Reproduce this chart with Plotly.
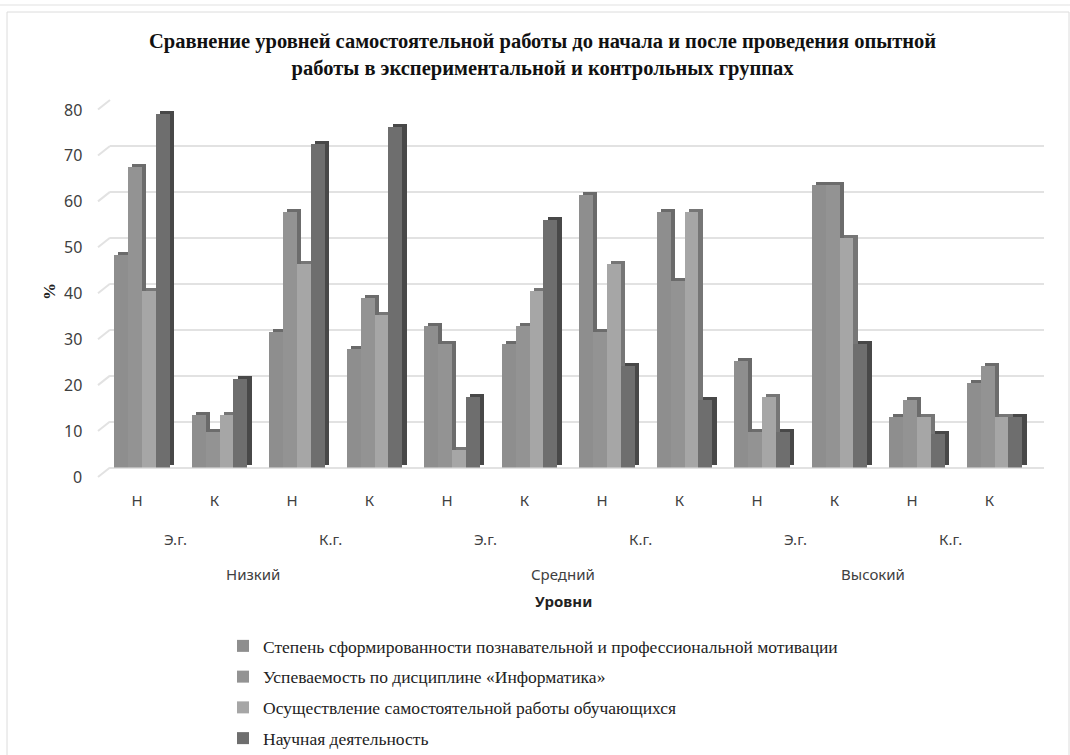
import plotly.graph_objects as go

# Category levels (three-level axis)
stage = ["Н", "К", "Н", "К", "Н", "К", "Н", "К", "Н", "К", "Н", "К"]
groups = ["Э.г.", "К.г.", "Э.г.", "К.г.", "Э.г.", "К.г."]
levels = ["Низкий", "Средний", "Высокий"]
y_ticks = [0, 10, 20, 30, 40, 50, 60, 70, 80]

series_names = [
    "Степень сформированности познавательной и профессиональной мотивации",
    "Успеваемость по дисциплине «Информатика»",
    "Осуществление самостоятельной работы обучающихся",
    "Научная деятельность",
]

motivation = [46.2, 11.5, 29.6, 25.9, 30.8, 26.9, 59.3, 55.6, 23.1, 61.5, 11.1, 18.5]
informatics = [65.4, 7.7, 55.6, 37.0, 26.9, 30.8, 29.6, 40.7, 7.7, 61.5, 14.8, 22.2]
independent_work = [38.5, 11.5, 44.4, 33.3, 3.8, 38.5, 44.4, 55.6, 15.4, 50.0, 11.1, 11.1]
research = [76.9, 19.2, 70.4, 74.1, 15.4, 53.8, 22.2, 14.8, 7.7, 26.9, 7.4, 11.1]

values = [motivation, informatics, independent_work, research]
front_colors = ["#8e8e8e", "#939393", "#a6a6a6", "#6e6e6e"]
depth_colors = ["#6a6a6a", "#6c6c6c", "#767676", "#484848"]

W, H = 1070, 755
# plot area (back wall) in page pixels
PX0, PX1 = 110, 1044
PY0, PY1 = 100, 467.5
FIRST_CAT_PX = 137      # pixel of the first category tick
CAT_PX = 77.5           # pixels per category
Y_MAX = 80
FRONT_DX, FRONT_DY = -12, 9.5  # floor/front edge offset of the pseudo-3D wall


def px_x(px):
    return px / W


def px_y(py):
    return 1 - py / H


def value_to_py(v):
    return PY1 - (PY1 - PY0) * v / Y_MAX


bar_w = 0.18
bar_shift = 0.065
dx, dy = 0.055, 0.65  # pseudo-3D depth of each column

fig = go.Figure()
for j, (name, vals) in enumerate(zip(series_names, values)):
    xs = [i + bar_shift + (j - 1.5) * bar_w for i in range(len(stage))]
    # side/top faces
    fig.add_trace(go.Bar(
        x=[x + dx for x in xs], y=vals, base=dy, width=bar_w,
        marker=dict(color=depth_colors[j], line=dict(width=0)),
        showlegend=False, hoverinfo="skip",
    ))
    # front faces
    fig.add_trace(go.Bar(
        x=xs, y=vals, width=bar_w, name=name, legendgroup=f"g{j}",
        marker=dict(color=front_colors[j], line=dict(width=0)),
    ))

sans = "Noto Sans"
serif = "Liberation Serif"
label_font = dict(family=sans, size=15, color="#404040")
annotations = []
shapes = []

# value labels sit at the front edge of each gridline
for v in y_ticks:
    annotations.append(dict(
        x=px_x(84), y=v, xref="paper", yref="y", text=str(v),
        xanchor="right", yanchor="middle", yshift=-FRONT_DY, showarrow=False,
        font=dict(family=sans, size=16, color="#404040"),
    ))
    shapes.append(dict(
        type="line", xref="paper", yref="paper",
        x0=px_x(PX0 + FRONT_DX), y0=px_y(value_to_py(v) + FRONT_DY),
        x1=px_x(PX0), y1=px_y(value_to_py(v)),
        line=dict(color="#e2e2e2", width=2),
    ))

# second level: groups (pairs of Н/К)
for k, g in enumerate(groups):
    annotations.append(dict(
        x=2 * k + 0.5, y=px_y(539), xref="x", yref="paper", text=g,
        xanchor="center", yanchor="middle", showarrow=False, font=label_font,
    ))
# third level: levels (four categories each)
for k, lv in enumerate(levels):
    annotations.append(dict(
        x=4 * k + 1.5, y=px_y(574), xref="x", yref="paper", text=lv,
        xanchor="center", yanchor="middle", showarrow=False, font=label_font,
    ))
annotations.append(dict(
    x=5.5, y=px_y(601), xref="x", yref="paper", text="<b>Уровни</b>",
    xanchor="center", yanchor="middle", showarrow=False,
    font=dict(family=sans, size=15, color="#222222"),
))
annotations.append(dict(
    x=px_x(49), y=px_y(292), xref="paper", yref="paper", text="<b>%</b>",
    xanchor="center", yanchor="middle", textangle=-90, showarrow=False,
    font=dict(family=serif, size=17, color="#222222"),
))
annotations.append(dict(
    x=px_x(542), y=px_y(55), xref="paper", yref="paper",
    text="<b>Сравнение уровней самостоятельной работы до начала и после проведения опытной<br>"
         "работы в экспериментальной и контрольных группах</b>",
    xanchor="center", yanchor="middle", showarrow=False,
    font=dict(family=serif, size=20.5, color="#111111"),
))

shapes += [
    dict(type="rect", xref="paper", yref="paper",
         x0=px_x(7), x1=px_x(1069), y0=px_y(760), y1=px_y(12),
         line=dict(color="#dcdcdc", width=1), layer="below"),
    dict(type="line", xref="paper", yref="paper",
         x0=0, x1=1, y0=px_y(5), y1=px_y(5),
         line=dict(color="#f0f0f0", width=2), layer="below"),
]

x_lo = -(FIRST_CAT_PX - PX0) / CAT_PX
x_hi = x_lo + (PX1 - PX0) / CAT_PX

fig.update_layout(
    width=W, height=H,
    margin=dict(l=0, r=0, t=0, b=0, pad=0, autoexpand=False),
    paper_bgcolor="white", plot_bgcolor="white",
    barmode="overlay", bargap=0,
    showlegend=True,
    legend=dict(
        orientation="v", x=px_x(223), y=px_y(628), xanchor="left", yanchor="top",
        font=dict(family=serif, size=17.5, color="#222222"),
        tracegroupgap=5, itemwidth=30, bgcolor="rgba(0,0,0,0)",
    ),
    xaxis=dict(
        domain=[px_x(PX0), px_x(PX1)], automargin=False,
        range=[x_lo, x_hi], tickmode="array", tickvals=list(range(len(stage))),
        ticktext=stage, showgrid=False, zeroline=False, showline=False,
        ticks="", ticklabelstandoff=22, tickfont=label_font,
    ),
    yaxis=dict(
        domain=[px_y(PY1), px_y(PY0)], automargin=False,
        range=[0, Y_MAX], tickvals=y_ticks, showticklabels=False,
        showgrid=True, gridcolor="#e2e2e2", gridwidth=2,
        zeroline=True, zerolinecolor="#e2e2e2", zerolinewidth=2, showline=False,
        ticks="",
    ),
    annotations=annotations,
    shapes=shapes,
)

fig.write_html("out.html")
